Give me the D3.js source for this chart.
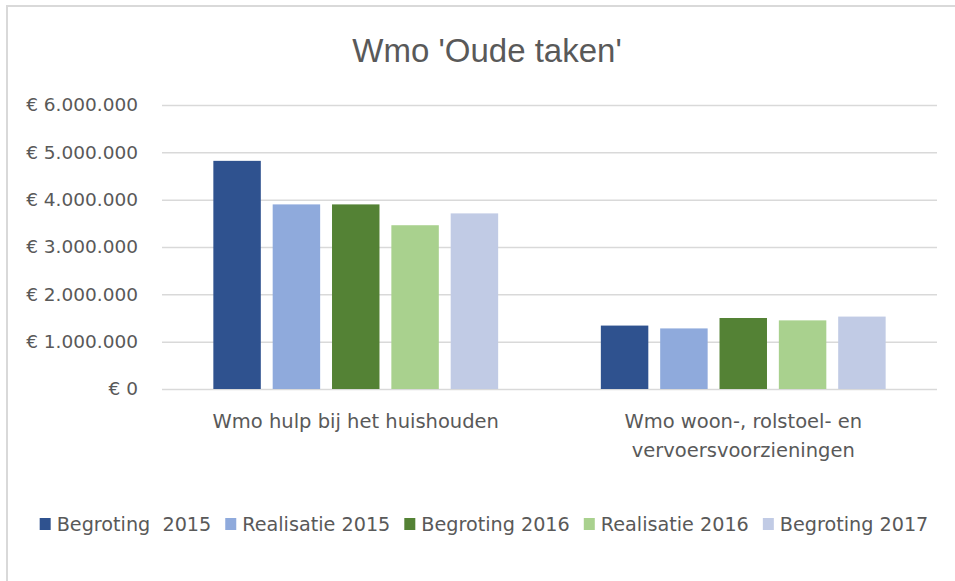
<!DOCTYPE html>
<html>
<head>
<meta charset="utf-8">
<script src="https://cdn.jsdelivr.net/npm/d3@7"></script>
<style>
body { margin: 0; background: #fff; }
text { font-family: "DejaVu Sans", sans-serif; fill: #595959; white-space: pre; }
</style>
</head>
<body>
<div id="chart"></div>
<script>
let w = 955;
let h = 581;

// data
let categories = ["Wmo hulp bij het huishouden", "Wmo woon-, rolstoel- en vervoersvoorzieningen"];
let categoryLines = [["Wmo hulp bij het huishouden"], ["Wmo woon-, rolstoel- en", "vervoersvoorzieningen"]];
let seriesNames = ["Begroting  2015", "Realisatie 2015", "Begroting 2016", "Realisatie 2016", "Begroting 2017"];
let seriesColors = ["#2f528f", "#8faadc", "#548235", "#a9d18e", "#c1cbe5"];
let begroting2015 = [4820000, 1340000];
let realisatie2015 = [3900000, 1280000];
let begroting2016 = [3900000, 1500000];
let realisatie2016 = [3460000, 1450000];
let begroting2017 = [3710000, 1530000];
let yTicks = [0, 1000000, 2000000, 3000000, 4000000, 5000000, 6000000];

let seriesValues = [begroting2015, realisatie2015, begroting2016, realisatie2016, begroting2017];

let plotLeft = 162;
let plotRight = 937;
let plotTop = 105;
let plotBottom = 389;

let nl = d3.formatLocale({
    decimal: ",",
    thousands: ".",
    grouping: [3],
    currency: ["€ ", ""]
});
let euro = nl.format("$,.0f");

let svg = d3.select("#chart")
    .append("svg")
    .attr("width", w)
    .attr("height", h);

// chart frame (only top and left edge are visible)
svg.append("path")
    .attr("d", "M7," + h + "V6H" + w)
    .attr("fill", "none")
    .attr("stroke", "#d9d9d9")
    .attr("stroke-width", 2);

svg.append("text")
    .attr("x", 487)
    .attr("y", 62)
    .attr("text-anchor", "middle")
    .style("font-family", "'Liberation Sans', sans-serif")
    .style("font-size", "33px")
    .text("Wmo 'Oude taken'");

let y = d3.scaleLinear()
    .domain([0, 6000000])
    .range([plotBottom, plotTop]);

let x0 = d3.scaleBand()
    .domain(categories)
    .range([plotLeft, plotRight])
    .paddingInner(0.265)
    .paddingOuter(0.1325);

let x1 = d3.scaleBand()
    .domain(seriesNames)
    .range([0, x0.bandwidth()])
    .paddingInner(0.2);

// gridlines + y labels
let yAxis = d3.axisLeft(y)
    .tickValues(yTicks)
    .tickSize(-(plotRight - plotLeft))
    .tickPadding(24)
    .tickFormat(euro);

let gy = svg.append("g")
    .attr("transform", "translate(" + plotLeft + ",0)")
    .call(yAxis);

gy.select(".domain").remove();
gy.selectAll(".tick line")
    .attr("stroke", "#d9d9d9")
    .attr("stroke-width", 1.5);
gy.selectAll(".tick text")
    .attr("fill", "#595959")
    .style("font-size", "18.5px");

// bars
let groups = svg.selectAll("g.cat")
    .data(categories)
    .enter()
    .append("g")
    .attr("class", "cat")
    .attr("transform", (d) => "translate(" + x0(d) + ",0)");

groups.selectAll("rect")
    .data((d, i) => seriesNames.map((s, j) => ({ s: s, v: seriesValues[j][i], c: seriesColors[j] })))
    .enter()
    .append("rect")
    .attr("x", (d) => x1(d.s))
    .attr("y", (d) => y(d.v))
    .attr("width", x1.bandwidth())
    .attr("height", (d) => plotBottom - y(d.v))
    .attr("fill", (d) => d.c);

// category labels
let xAxis = d3.axisBottom(x0)
    .tickSize(0)
    .tickFormat("");

let gx = svg.append("g")
    .attr("transform", "translate(0," + plotBottom + ")")
    .call(xAxis);
gx.select(".domain").remove();

gx.selectAll(".tick")
    .each(function (d, i) {
        let t = d3.select(this).append("text")
            .attr("text-anchor", "middle")
            .attr("fill", "#595959")
            .style("font-size", "19.5px");
        categoryLines[i].forEach((line, k) => {
            t.append("tspan")
                .attr("x", 0)
                .attr("y", 39 + k * 29)
                .text(line);
        });
    });

// legend
let legend = svg.append("g");
let items = legend.selectAll("g")
    .data(seriesNames)
    .enter()
    .append("g");

items.append("rect")
    .attr("x", 0)
    .attr("y", -13)
    .attr("width", 11)
    .attr("height", 12)
    .attr("fill", (d, i) => seriesColors[i]);

items.append("text")
    .attr("x", 17)
    .attr("y", 0)
    .style("font-size", "19.2px")
    .text((d) => d);

let gap = 14;
let pos = 0;
items.each(function () {
    let tw = d3.select(this).select("text").node().getComputedTextLength();
    d3.select(this).attr("transform", "translate(" + pos + ",0)");
    pos += 17 + tw + gap;
});
let legendWidth = pos - gap;
legend.attr("transform", "translate(" + (484 - legendWidth / 2) + ",531)");
</script>
</body>
</html>
